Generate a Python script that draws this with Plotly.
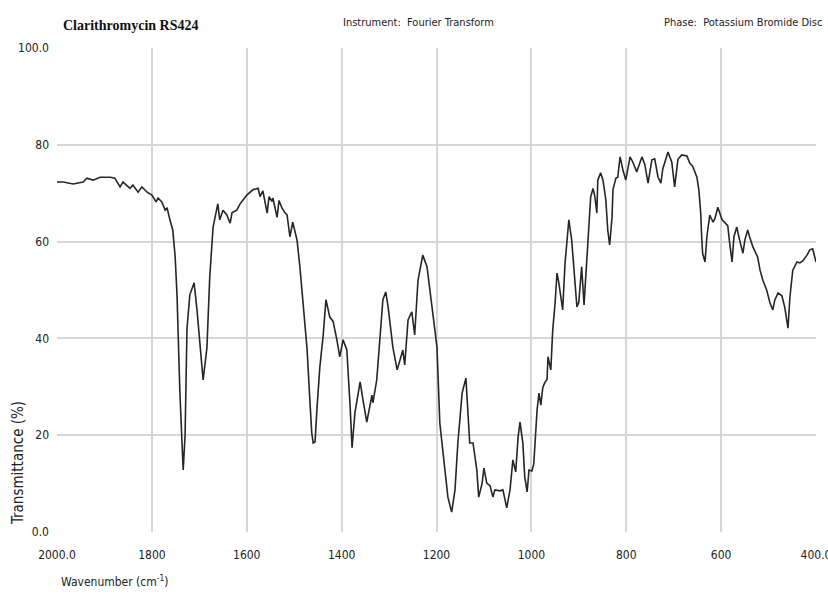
import plotly.graph_objects as go

# ---- data ----
wavenumber = [2000, 1987, 1966, 1945, 1937, 1924, 1909, 1888, 1878, 1867, 1861, 1846, 1840, 1829, 1821, 1810,
              1800, 1791, 1787, 1779, 1772, 1768, 1762, 1756, 1751, 1747, 1741, 1737, 1734, 1730, 1726, 1720,
              1711, 1705, 1699, 1692, 1684, 1678, 1671, 1663, 1661, 1657, 1650, 1642, 1635, 1631, 1621, 1614,
              1600, 1587, 1576, 1572, 1566, 1557, 1553, 1547, 1545, 1536, 1532, 1526, 1520, 1515, 1509, 1503,
              1494, 1488, 1482, 1473, 1467, 1463, 1460, 1456, 1452, 1446, 1439, 1433, 1425, 1418, 1410, 1404,
              1397, 1389, 1382, 1378, 1372, 1361, 1355, 1347, 1336, 1334, 1326, 1319, 1313, 1307, 1302, 1292,
              1283, 1277, 1271, 1267, 1260, 1252, 1246, 1239, 1229, 1220, 1210, 1199, 1193, 1182, 1176, 1168,
              1161, 1155, 1146, 1138, 1134, 1130, 1123, 1115, 1111, 1104, 1100, 1094, 1087, 1081, 1077, 1066,
              1060, 1056, 1052, 1045, 1039, 1033, 1028, 1024, 1018, 1014, 1009, 1005, 999, 995, 988, 984,
              980, 976, 972, 967, 965, 959, 955, 950, 946, 942, 934, 929, 921, 915, 910, 904,
              900, 894, 889, 883, 879, 875, 870, 866, 862, 860, 854, 849, 843, 839, 835, 830,
              828, 822, 818, 813, 807, 801, 792, 786, 778, 767, 761, 754, 746, 740, 733, 727,
              723, 712, 704, 698, 691, 683, 672, 666, 660, 651, 647, 643, 641, 639, 634, 630,
              624, 617, 613, 607, 598, 592, 586, 582, 577, 573, 567, 561, 554, 550, 544, 540,
              533, 523, 518, 512, 504, 497, 491, 487, 480, 472, 466, 459, 455, 449, 440, 434,
              428, 419, 413, 407, 400]
transmittance = [72.3, 72.3, 71.9, 72.3, 73.1, 72.7, 73.3, 73.3, 73.1, 71.3, 72.3, 71.0, 71.7, 70.2, 71.3, 70.2,
                 69.6, 68.2, 69.0, 68.2, 66.5, 67.0, 64.5, 62.4, 57.0, 49.0, 29.0, 18.0, 12.8, 20.0, 42.0, 49.0,
                 51.5, 46.0, 39.7, 31.4, 38.0, 52.7, 63.0, 67.0, 67.8, 64.5, 66.5, 65.5, 63.8, 66.0, 66.5, 67.8,
                 69.6, 70.7, 71.0, 69.3, 70.5, 65.9, 69.3, 68.3, 69.0, 65.0, 68.5, 67.0, 66.0, 65.5, 61.0, 64.0,
                 60.3, 54.8, 47.3, 38.0, 27.3, 20.5, 18.4, 18.6, 25.5, 34.0, 40.5, 48.0, 44.4, 43.5, 39.7, 36.2,
                 39.7, 37.6, 25.8, 17.4, 24.6, 31.0, 27.3, 22.7, 28.3, 26.7, 31.4, 39.7, 48.0, 49.6, 46.5, 38.2,
                 33.5, 35.5, 37.6, 34.5, 43.8, 45.5, 40.7, 52.0, 57.2, 54.8, 46.5, 38.2, 22.5, 12.8, 7.2, 4.1,
                 8.7, 18.4, 28.7, 31.8, 25.2, 18.4, 18.4, 12.8, 7.2, 10.0, 13.2, 10.1, 9.5, 7.2, 8.7, 8.5,
                 8.7, 6.6, 5.0, 8.7, 14.9, 12.4, 19.6, 22.7, 18.4, 11.4, 8.3, 12.8, 12.6, 14.0, 25.2, 28.7,
                 26.2, 29.8, 30.8, 31.5, 36.2, 33.5, 41.7, 47.3, 53.5, 51.4, 45.9, 55.6, 64.5, 60.3, 53.5, 46.5,
                 47.5, 54.8, 46.9, 56.8, 63.8, 69.2, 71.0, 69.2, 65.9, 72.7, 74.2, 72.7, 68.6, 62.4, 59.3, 65.0,
                 70.7, 73.1, 73.3, 77.5, 74.8, 72.7, 77.5, 76.4, 74.4, 77.5, 76.0, 72.1, 76.9, 77.1, 73.3, 72.1,
                 75.0, 78.5, 76.4, 71.3, 77.0, 77.9, 77.7, 76.2, 75.6, 73.3, 70.7, 65.9, 61.0, 57.6, 55.8, 61.0,
                 65.5, 64.0, 64.8, 67.1, 64.5, 63.8, 63.3, 59.7, 55.8, 61.0, 63.0, 60.3, 57.6, 60.3, 62.4, 61.0,
                 58.9, 56.8, 54.1, 52.0, 50.0, 47.3, 45.9, 47.9, 49.4, 48.8, 46.5, 42.1, 48.5, 54.1, 55.8, 55.6,
                 56.0, 57.2, 58.3, 58.5, 55.8]

x_tick_vals = [2000, 1800, 1600, 1400, 1200, 1000, 800, 600, 400]
x_tick_text = ["2000.0", "1800", "1600", "1400", "1200", "1000", "800", "600", "400.0"]
y_tick_vals = [0, 20, 40, 60, 80, 100]
y_tick_text = ["0.0", "20", "40", "60", "80", "100.0"]

sample_name = "Clarithromycin RS424"
instrument = "Instrument:  Fourier Transform"
phase = "Phase:  Potassium Bromide Disc"
x_title = "Wavenumber (cm<sup>-1</sup>)"
y_title = "Transmittance (%)"

# ---- figure ----
W, H = 828, 595
L, R, T, B = 57, 12, 48, 63
narrow = "Liberation Sans Narrow, Arial Narrow, DejaVu Sans Condensed, sans-serif"

def px(xp):
    return (xp - L) / (W - L - R)

def py(yp):
    return 1 - (yp - T) / (H - T - B)

fig = go.Figure()
fig.add_trace(go.Scatter(x=wavenumber, y=transmittance, mode="lines",
                         line=dict(color="#262626", width=1.6), hoverinfo="x+y"))

grid = "#d6d6d6"
fig.update_xaxes(range=[2000, 400], tickvals=x_tick_vals, ticktext=x_tick_text,
                 showgrid=True, gridcolor=grid, gridwidth=2, zeroline=False,
                 showline=False, ticks="", ticklabelstandoff=14, ticklabeloverflow="allow",
                 automargin=False,
                 tickfont=dict(family=narrow, size=12, color="#222"))
fig.update_yaxes(range=[0, 100], tickvals=y_tick_vals, ticktext=y_tick_text,
                 showgrid=True, gridcolor=grid, gridwidth=2, zeroline=False,
                 showline=False, ticks="", ticklabelstandoff=7, ticklabeloverflow="allow",
                 automargin=False,
                 tickfont=dict(family=narrow, size=12, color="#222"))

ann = []
ann.append(dict(text="<b>" + sample_name + "</b>", x=px(61), y=py(25), xref="paper", yref="paper",
                xanchor="left", yanchor="middle", showarrow=False,
                font=dict(family="Liberation Serif, Times New Roman, serif", size=14, color="#111")))
ann.append(dict(text=instrument, x=px(418), y=py(22), xref="paper", yref="paper",
                xanchor="center", yanchor="middle", showarrow=False,
                font=dict(family=narrow, size=11, color="#222")))
ann.append(dict(text=phase, x=px(824), y=py(22), xref="paper", yref="paper",
                xanchor="right", yanchor="middle", showarrow=False,
                font=dict(family=narrow, size=11, color="#222")))
ann.append(dict(text=x_title, x=px(59), y=py(581), xref="paper", yref="paper",
                xanchor="left", yanchor="middle", showarrow=False,
                font=dict(family=narrow, size=12, color="#222")))
ann.append(dict(text=y_title, x=px(18), y=py(463), xref="paper", yref="paper",
                xanchor="center", yanchor="middle", showarrow=False, textangle=-90,
                font=dict(family=narrow, size=15, color="#222")))

fig.update_layout(width=W, height=H, margin=dict(l=L, r=R, t=T, b=B, autoexpand=False),
                  paper_bgcolor="white", plot_bgcolor="white", showlegend=False,
                  annotations=ann)

fig.write_html("out.html", config={"displayModeBar": False},
               post_script="document.body.style.margin='0';")
